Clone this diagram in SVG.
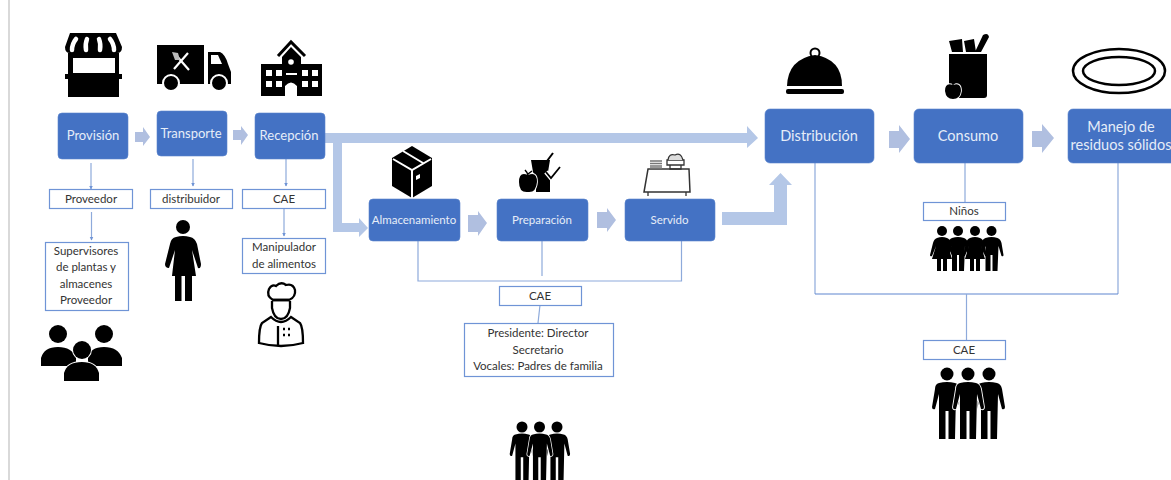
<svg xmlns="http://www.w3.org/2000/svg" width="1171" height="480" viewBox="0 0 1171 480">
<style>
text{font-family:Lato,"Noto Sans","Liberation Sans",sans-serif;text-anchor:middle}
.n{fill:#4472c4;stroke:#5b84cc;stroke-width:.6}
.nt{fill:#e6edf8;font-size:13px}
.nl{fill:#e6edf8;font-size:14.500px}
.ns{fill:#e6edf8;font-size:11.500px}
.b{fill:#fff;stroke:#6f94d6;stroke-width:1.200}
.t{fill:#333;font-size:11.500px}
.c{fill:none;stroke:#8eaadb;stroke-width:1.200}
.a{fill:#b4c7e7}
.a2{fill:#b0bfe0}
.o{stroke:#fff;stroke-width:1.800;paint-order:stroke}
</style>
<defs>
<marker id="m" markerWidth="5" markerHeight="5" refX="3.500" refY="2" orient="auto" markerUnits="userSpaceOnUse"><path d="M0,0L4,2L0,4Z" fill="#6f94d6"/></marker>
<path id="man" d="M-8,9Q0,7 8,9Q12,10 13,15L16,33Q16,36 13,35L9,20L8,65L1.500,65L1.500,37L-1.500,37L-1.500,65L-8,65L-8,20L-12,35Q-15,36 -15,33L-12,15Q-12,10-8,9Z"/>
<path id="boy" d="M-6,7Q0,5 6,7Q9,8 10,12L12,24Q12,26 10,25L7,15L6,40L1,40L1,24L-1,24L-1,40L-6,40L-6,15L-9,25Q-11,26-11,24L-10,12Q-9,8-6,7Z"/>
<path id="girl" d="M-5,7Q0,5 5,7Q8,8 9,12L12,24Q12,26 10,25L6,15L10,28L5,28L5,40L1,40L1,28L-1,28L-1,40L-5,40L-5,28L-10,28L-6,15L-10,25Q-12,26-12,24L-9,12Q-8,8-5,7Z"/>
</defs>
<rect width="1171" height="480" fill="#fff"/>
<rect x="8" y="0" width="2" height="480" fill="#d9d9d9"/>

<g id="connectors">
<path class="c" d="M91,163V189" marker-end="url(#m)"/>
<path class="c" d="M91.500,212V240" marker-end="url(#m)"/>
<path class="c" d="M193,159V186" marker-end="url(#m)"/>
<path class="c" d="M286,159V186" marker-end="url(#m)"/>
<path class="c" d="M284,209V236" marker-end="url(#m)"/>
<path class="c" d="M418,241V281H681.500V241"/>
<path class="c" d="M542,241V276"/>
<path class="c" d="M540,305L538,323"/>
<path class="c" d="M815,163V294M1118,294V163"/>
<path class="c" d="M815,294H1118" style="stroke:#5f86cf"/>
<path class="c" d="M965,163V202"/>
<path class="c" d="M966.500,294V340"/>
<path class="a2" d="M135,132H143V127L150,137L143,146V142H135Z"/>
<path class="a2" d="M233,130H241V126L248,135L241,145V140H233Z"/>
<path class="a" d="M323,133H747V126L758,138L747,148V143H342V223H359V218L368,228L359,237V232H333V143H323Z"/>
<path class="a2" d="M468,215H478V211L487,223L478,236V232H468Z"/>
<path class="a2" d="M597,212H607V208L616,220L607,232V228H597Z"/>
<path class="a" d="M722,212H774V185H769L780.500,173L792,185H787V225H722Z"/>
<path class="a2" d="M889,131H899V125L910,139L899,153V148H889Z"/>
<path class="a2" d="M1032,131H1042V124L1054,138L1042,153V147H1032Z"/>
</g>

<g id="provision"><rect class="n" x="58" y="113" width="70" height="46" rx="4"/><text class="nt" x="93" y="140">Provisión</text></g>
<g id="transporte"><rect class="n" x="157" y="111" width="70" height="45" rx="4"/><text class="nt" x="191" y="137.500">Transporte</text></g>
<g id="recepcion"><rect class="n" x="255" y="113" width="70" height="46" rx="4"/><text class="nt" x="289" y="140">Recepción</text></g>
<g id="almacenamiento"><rect class="n" x="369" y="199" width="91" height="42" rx="4"/><text class="ns" x="414" y="224">Almacenamiento</text></g>
<g id="preparacion"><rect class="n" x="497" y="199" width="91" height="42" rx="4"/><text class="ns" x="542" y="224">Preparación</text></g>
<g id="servido"><rect class="n" x="625" y="199" width="90" height="42" rx="4"/><text class="ns" x="669.500" y="224">Servido</text></g>
<g id="distribucion"><rect class="n" x="765" y="109" width="109" height="54" rx="5"/><text class="nl" x="819" y="141">Distribución</text></g>
<g id="consumo"><rect class="n" x="914" y="109" width="109" height="54" rx="5"/><text class="nl" x="968" y="141">Consumo</text></g>
<g id="manejo"><rect class="n" x="1068" y="109" width="112" height="54" rx="5"/><text class="nl" x="1121" y="132">Manejo de</text><text class="nl" x="1121" y="150">residuos sólidos</text></g>

<g id="box-proveedor"><rect class="b" x="49.500" y="189.500" width="83" height="19"/><text class="t" x="91" y="203">Proveedor</text></g>
<g id="box-distribuidor"><rect class="b" x="150.500" y="189.500" width="82" height="19"/><text class="t" x="191" y="203">distribuidor</text></g>
<g id="box-cae1"><rect class="b" x="242.500" y="189.500" width="83" height="19"/><text class="t" x="284" y="203">CAE</text></g>
<g id="box-supervisores"><rect class="b" x="45.500" y="242.500" width="83" height="68"/><text class="t" x="86" y="255">Supervisores</text><text class="t" x="86" y="271">de plantas y</text><text class="t" x="86" y="288">almacenes</text><text class="t" x="86" y="304">Proveedor</text></g>
<g id="box-manipulador"><rect class="b" x="242.500" y="238.500" width="83" height="35"/><text class="t" x="284" y="251">Manipulador</text><text class="t" x="284" y="268">de alimentos</text></g>
<g id="box-cae2"><rect class="b" x="499.500" y="286.500" width="82" height="19"/><text class="t" x="540" y="300">CAE</text></g>
<g id="box-presidente"><rect class="b" x="464.500" y="323.500" width="149" height="53"/><text class="t" x="538" y="337">Presidente: Director</text><text class="t" x="538" y="354">Secretario</text><text class="t" x="538" y="370">Vocales: Padres de familia</text></g>
<g id="box-ninos"><rect class="b" x="923.500" y="202.500" width="82" height="18"/><text class="t" x="964" y="215">Niños</text></g>
<g id="box-cae3"><rect class="b" x="923.500" y="340.500" width="82" height="19"/><text class="t" x="964" y="354">CAE</text></g>

<g id="icon-store">
<path d="M70,33H116L122,47Q122,53 117,53H119V74H122V79H119V97H68V79H65V74H68V53H70Q65,53 65,47Z"/>
<rect x="73" y="58" width="42" height="15" fill="#fff"/>
<path d="M76,39Q72,44 72,50M87,39Q85,44 86,50M99,39Q101,44 100,50M110,39Q114,44 114,50" fill="none" stroke="#fff" stroke-width="4.500" stroke-linecap="round"/>
</g>
<g id="icon-truck">
<rect x="157" y="45" width="47" height="39"/>
<path d="M208,52H220Q225,54 228,64L231,72V84H208Z"/>
<path d="M211,55H218L222,64H211Z" fill="#fff"/>
<circle cx="171" cy="83" r="8" stroke="#fff" stroke-width="2"/><circle cx="219" cy="83" r="8" stroke="#fff" stroke-width="2"/>
<path d="M175,54L189,70M188,53L174,69" stroke="#fff" stroke-width="2.200" fill="none"/>
<path d="M172,52L178,53L180,60L175,60Z" fill="#bbb"/>
</g>
<g id="icon-school">
<path d="M278,56L291,42L305,56" fill="none" stroke="#000" stroke-width="3"/>
<path d="M291,47L301,57V64H322V96H261V64H282V57Z"/>
<circle cx="291" cy="62" r="2.800" fill="#fff"/>
<path d="M266,70h6v6h-6zM276,70h6v6h-6zM266,81h6v6h-6zM276,81h6v6h-6zM302,70h6v6h-6zM312,70h6v6h-6zM302,81h6v6h-6zM312,81h6v6h-6zM286,73h11v2h-11zM285,96v-10q6,-7 12,0v10z" fill="#fff"/>
</g>
<g id="icon-supervisores">
<circle cx="58" cy="334" r="9"/><circle cx="104" cy="334" r="9"/>
<path d="M41,366V358Q44,347 58,347Q72,347 76,358V366ZM88,366V358Q90,347 104,347Q118,347 122,358V366Z"/>
<circle class="o" cx="82" cy="350" r="9"/>
<path class="o" d="M64,381V373Q67,362 82,362Q96,362 99,373V381Z"/>
</g>
<g id="icon-woman">
<circle cx="183" cy="227" r="7"/>
<path d="M176,237Q183,235 190,237Q195,238 197,244L201,264Q201,269 198,268L192,250L196,276H192V301H185V276H181.500V301H175V276H172L175,250L169,268Q165,268 165,264L170,244Q171,238 176,237Z"/>
</g>
<g id="icon-chef" fill="none" stroke="#000" stroke-width="2.300">
<path d="M273,300Q266,296 269,289Q272,284 276,286Q281,281 286,285Q293,283 295,290Q296,297 289,300Z"/>
<path d="M273,300H289M272,301V308Q274,319 281,319Q288,319 290,308V301"/>
<path d="M271,317L262,323Q259,327 259,343Q281,349 303,343Q303,327 300,323L291,317Q281,327 271,317Z"/>
<path d="M278,326V346"/>
<path d="M283,329h2M288,329h2M283,335h2M288,335h2"/>
</g>
<g id="icon-box">
<path d="M412,146L432,158V186L412,198L392,186V158Z"/>
<path d="M393,159L412,170L431,159M412,170V198M403,151L423,163" fill="none" stroke="#fff" stroke-width="2"/>
<path d="M416,176L420,174V178L416,180Z" fill="#fff"/>
</g>
<g id="icon-preparacion">
<path d="M531,160H550L548,172L550,180V192H536V178L533,172Z"/>
<path d="M547,161L553,153" stroke="#000" stroke-width="2" fill="none"/>
<path class="o" d="M528,175Q537,171 537,182Q536,193 528,192Q519,193 519,182Q519,171 528,175Z"/>
<path d="M528,175Q527,172 525,170M528,174L532,171" stroke="#000" stroke-width="1.500" fill="none"/>
<path d="M546,172L551,178L561,166" fill="none" stroke="#fff" stroke-width="4.500"/>
<path d="M546,172L551,178L560,167" fill="none" stroke="#000" stroke-width="1.800"/>
</g>
<g id="icon-servido" fill="none" stroke="#333" stroke-width="1.300">
<path d="M648,169H689L690,192H644Z" stroke-width="1.500"/>
<path d="M648,192V196M686,192V196"/>
<path d="M650,161H662M650,163.500H662M650,166H662M650,168H662" stroke="#777"/>
<path d="M667,160H684V165H667ZM670,165H681V169H670Z"/>
<path d="M668,160Q669,153 675,155Q681,152 683,160" fill="#ddd"/>
</g>
<g id="icon-cloche">
<path d="M787,86Q788,59 815,55Q842,59 842,86Z"/>
<circle cx="815" cy="53" r="4.500" fill="none" stroke="#000" stroke-width="2"/>
<rect x="786" y="89" width="58" height="5" rx="2"/>
</g>
<g id="icon-bag">
<path d="M949,41L962,39L963,52H952ZM964,41L974,39L976,52H966ZM975,52L983,35Q988,32 989,37L981,52Z"/>
<path d="M949,54L987,54V95Q987,98 984,98H949Z"/>
<path class="o" d="M953,85Q961,82 961,91Q960,99 953,99Q946,99 945,91Q945,82 953,85Z"/>
<path d="M953,85V80M953,84L957,81" stroke="#000" stroke-width="1.500" fill="none"/>
</g>
<g id="icon-plate" fill="none" stroke="#000">
<ellipse cx="1119" cy="71" rx="46" ry="22" stroke-width="2.500"/>
<ellipse cx="1119" cy="71" rx="36" ry="14" stroke-width="2.500"/>
</g>
<g id="icon-familia">
<circle cx="522" cy="427" r="5.500"/><circle cx="557" cy="427" r="5.500"/>
<use href="#man" transform="translate(522 427) scale(.82)"/>
<use href="#man" transform="translate(557 427) scale(.82)"/>
<circle cx="539.500" cy="427" r="5.500"/>
<use class="o" href="#man" transform="translate(539.500 427) scale(.82)"/>
</g>
<g id="icon-ninos">
<circle cx="942" cy="231" r="5"/><circle cx="958" cy="231" r="5"/><circle cx="975" cy="231" r="5"/><circle cx="991.500" cy="231" r="5"/>
<use href="#girl" transform="translate(942 231)"/>
<use href="#boy" transform="translate(958 231)"/>
<use href="#girl" transform="translate(975 231)"/>
<use href="#boy" transform="translate(991.500 231)"/>
</g>
<g id="icon-cae">
<circle cx="947" cy="374" r="6.500"/><circle cx="989" cy="374" r="6.500"/><circle cx="968" cy="374" r="6.500"/>
<use href="#man" transform="translate(947 374)"/>
<use href="#man" transform="translate(989 374)"/>
<use class="o" href="#man" transform="translate(968 374)"/>
</g>
</svg>
